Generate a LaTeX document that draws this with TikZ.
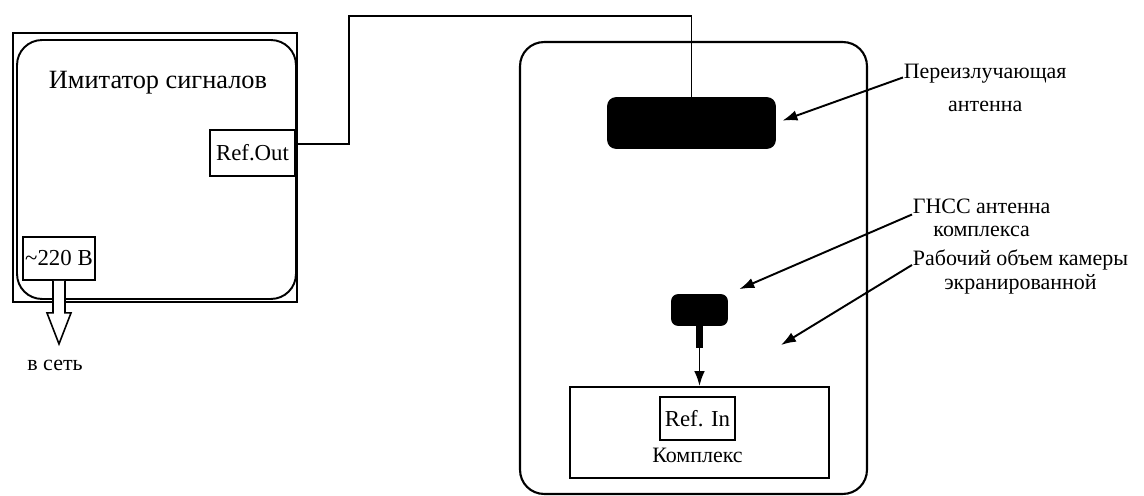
\documentclass[tikz,border=0pt]{standalone}
\usepackage{fontspec}
\setmainfont{Liberation Serif}
\usetikzlibrary{arrows.meta, positioning, calc}
\tikzset{
  every picture/.style={line width=1pt},
  box/.style={draw, line width=1.1pt, inner sep=0pt, align=center, font=\fontsize{13}{15}\selectfont},
  block/.style={draw=black, fill=black, inner sep=0pt, rounded corners=#1},
  block/.default=0.16cm,
  note/.style={font=\fontsize{12.5}{15}\selectfont, align=center, inner sep=0pt},
  arrow/.style={-{Latex[length=8.5pt, width=6pt]}, line width=1.1pt},
  wire/.style={line width=0.9pt},
  hollow/.style={line width=0.9pt, fill=white, line join=miter},
}

\begin{document}
\begin{tikzpicture}[x=0.02cm, y=-0.02cm]
  \useasboundingbox[fill=white] (0,0) rectangle (1144,496);
  % simulator
  \node[draw, line width=1.6pt, minimum width=5.68cm, minimum height=5.38cm] (imitFrame) at (155,167.5) {};
  \node[draw, line width=1.1pt, rounded corners=0.5cm, minimum width=5.58cm, minimum height=5.18cm] (imit) at (156.5,169.5) {};
  \node[note, font=\fontsize{15}{18}\selectfont] (imitTitle) at (158,83) {Имитатор сигналов};
  \node[box, minimum width=1.7cm, minimum height=0.92cm] (refout) at (252.5,153) {Ref.Out};
  \node[box, minimum width=1.44cm, minimum height=0.86cm] (mains) at (59,258.5) {\textasciitilde220 В};
  \draw[hollow] (mains.south) ++(-6,0) -- ++(0,32) -- ++(-6,0) -- ++(12,31) -- ++(12,-31) -- ++(-6,0) -- ++(0,-32);
  \node[note] (vset) at (55,365) {в сеть};
  % chamber
  \node[draw, line width=1.2pt, rounded corners=0.48cm, minimum width=6.94cm, minimum height=9.04cm] (chamber) at (693.5,268) {};
  \node[block, minimum width=3.34cm, minimum height=1cm] (ant) at (691.5,123) {};
  \node[block=0.12cm, minimum width=1.1cm, minimum height=0.6cm] (gnss) at (699.5,310) {};
  \node[draw, line width=1pt, minimum width=5.18cm, minimum height=1.82cm] (komp) at (699.5,432.5) {};
  \node[box, line width=1pt, minimum width=1.5cm, minimum height=0.86cm] (refin) at (697.5,418.5) {Ref. In};
  \node[note, below=0.12cm of refin] (kompLbl) {Комплекс};
  \coordinate (volPt) at (781,345);
  \draw[wire] ([yshift=5pt]refout.east) -| (349,16) -| (ant.north);
  \draw[line width=4.5pt] (gnss.south) -- ++(0,22) coordinate (stem);
  \draw[arrow] (stem) -- (komp.north);
  % labels
  \node[note, anchor=west] (lblRe) at (903,88) {Переизлучающая\\[4pt]антенна};
  \node[note, anchor=west] (lblGnss) at (912,218) {ГНСС антенна\\[-2pt]комплекса};
  \node[note, anchor=west] (lblVol) at (912,272) {Рабочий объем камеры\\[-1pt]экранированной};
  \draw[arrow, shorten >=4pt] ([yshift=6pt]lblRe.west) -- (ant.east);
  \draw[arrow, shorten >=0.25cm] ([yshift=2pt]lblGnss.west) -- (gnss.north east);
  \draw[arrow] ([yshift=4pt]lblVol.west) -- (volPt);
\end{tikzpicture}
\end{document}
